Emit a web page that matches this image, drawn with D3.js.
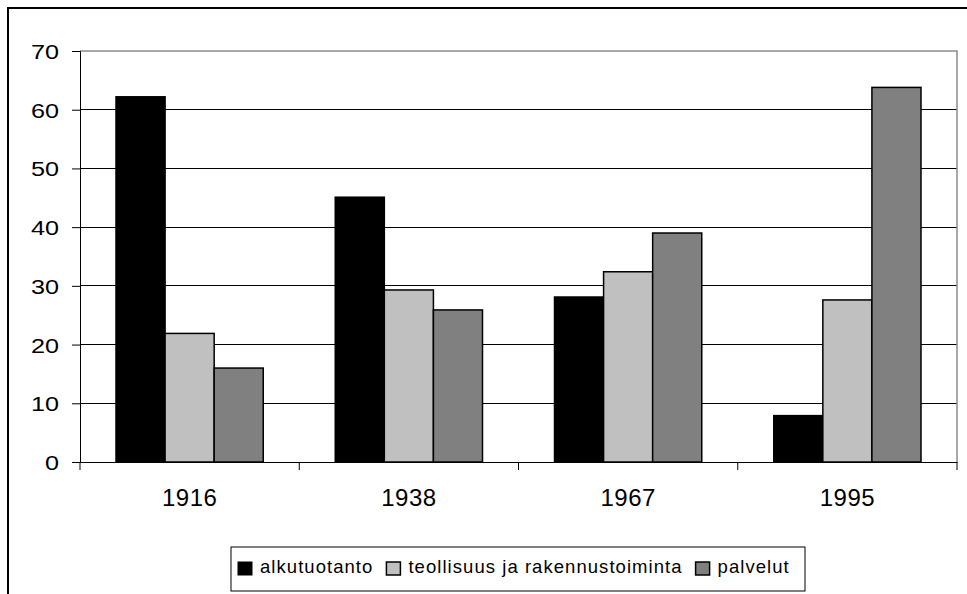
<!DOCTYPE html>
<html><head><meta charset="utf-8">
<script src="https://cdn.jsdelivr.net/npm/d3@7"></script>
<style>
html,body{margin:0;padding:0;background:#fff;}
svg text{font-family:"Liberation Sans",Arial,sans-serif;fill:#000;}
</style></head>
<body><svg id="c" width="967" height="594"></svg>
<script>
const categories = ["1916","1938","1967","1995"];
const seriesNames = ["alkutuotanto","teollisuus ja rakennustoiminta","palvelut"];
const alkutuotanto = [62.2, 45.1, 28.1, 7.9];
const teollisuus = [21.9, 29.3, 32.4, 27.6];
const palvelut = [16.0, 25.9, 39.0, 63.8];
const yTicks = [0,10,20,30,40,50,60,70];
const colors = ["#000000","#c0c0c0","#808080"];

const series = [alkutuotanto, teollisuus, palvelut];
const svg = d3.select("#c");
const L=80, R=957, T=51, B=462;

// outer frame
svg.append("rect").attr("x",8).attr("y",8).attr("width",970).attr("height",600)
  .attr("fill","none").attr("stroke","#000").attr("stroke-width",2);

const x0 = d3.scaleBand().domain(categories).range([L,R]);
const bw = x0.bandwidth();
const pad = bw*36/219.25;
const x1 = d3.scaleBand().domain([0,1,2]).range([pad,bw-pad]);
const y = d3.scaleLinear().domain([0,70]).range([B,T]);

// gridlines
svg.append("g").selectAll("line").data(yTicks.filter(d=>d>0 && d<70)).join("line")
  .attr("x1",L).attr("x2",R).attr("y1",d=>y(d)).attr("y2",d=>y(d))
  .attr("stroke","#000").attr("stroke-width",1).attr("shape-rendering","crispEdges");
// plot top/right border
svg.append("path").attr("d",`M${L},${y(70)}H${R}V${B}`).attr("fill","none")
  .attr("stroke","#8c8c8c").attr("stroke-width",1.5);

// bars
const g = svg.append("g");
categories.forEach((c,i)=>{
  series.forEach((s,j)=>{
    g.append("rect")
      .attr("x",x0(c)+x1(j)).attr("width",x1.bandwidth())
      .attr("y",y(s[i])).attr("height",y(0)-y(s[i]))
      .attr("fill",colors[j]).attr("stroke","#000").attr("stroke-width",1.5);
  });
});

// y axis
const ya = svg.append("g").attr("transform",`translate(${L},0)`)
  .call(d3.axisLeft(y).tickValues(yTicks).tickSize(8).tickFormat(d3.format("d")));
ya.select(".domain").attr("stroke","#000");
ya.selectAll(".tick text").attr("x",0).attr("dy","0.36em")
  .attr("transform","translate(-21,0) scale(1.2,1)")
  .attr("font-size","21px").attr("font-family","Liberation Sans, Arial, sans-serif");

// x axis
const xa = svg.append("g").attr("transform",`translate(0,${B})`)
  .call(d3.axisBottom(x0).tickSize(0).tickPadding(27));
xa.select(".domain").attr("stroke","#000");
xa.selectAll("text").attr("font-size","24px").attr("letter-spacing","0.5px")
  .attr("font-family","Liberation Sans, Arial, sans-serif");
const bounds = categories.map(c=>x0(c)).concat([R]);
svg.append("g").selectAll("line").data(bounds).join("line")
  .attr("x1",d=>d).attr("x2",d=>d).attr("y1",B).attr("y2",B+8).attr("stroke","#000");

// legend
const lg = svg.append("g");
lg.append("rect").attr("x",231).attr("y",547).attr("width",574).attr("height",44)
  .attr("fill","#fff").attr("stroke","#000").attr("stroke-width",1);
let lx = 238;
seriesNames.forEach((n,j)=>{
  lg.append("rect").attr("x",lx).attr("y",562).attr("width",14).attr("height",13)
    .attr("fill",colors[j]).attr("stroke","#000").attr("stroke-width",j==0?1:1.5);
  const t = lg.append("text").attr("x",lx+22).attr("y",573).attr("font-size","18.5px")
    .attr("letter-spacing","1.05px").text(n);
  lx = lx + 22 + t.node().getComputedTextLength() + 13;
});
</script></body></html>
